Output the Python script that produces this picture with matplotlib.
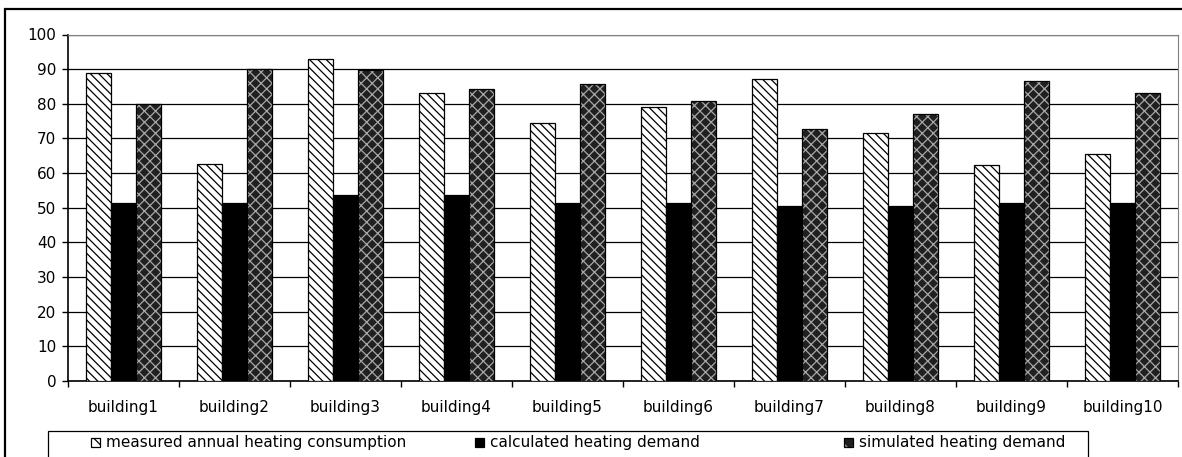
import matplotlib.pyplot as plt
import numpy as np
from matplotlib.patches import Rectangle

plt.rcParams['font.family'] = ['DejaVu Sans']
plt.rcParams['hatch.linewidth'] = 0.9

buildings = ['building1', 'building2', 'building3', 'building4', 'building5',
             'building6', 'building7', 'building8', 'building9', 'building10']
measured = [89.0, 62.7, 93.0, 83.0, 74.6, 79.2, 87.3, 71.5, 62.3, 65.4]
calculated = [51.5, 51.5, 53.6, 53.6, 51.5, 51.5, 50.6, 50.6, 51.5, 51.5]
simulated = [79.9, 90.0, 89.7, 84.2, 85.6, 80.9, 72.6, 77.2, 86.7, 83.0]
series_names = ['measured annual heating consumption', 'calculated heating demand',
                'simulated heating demand']

W, H = 1182, 457
fig = plt.figure(figsize=(W / 100, H / 100), dpi=100)
ax = fig.add_axes([68 / W, 1 - 381 / H, (1178 - 68) / W, (381 - 34.5) / H])

x = np.arange(len(buildings))
bw = 0.225

# measured: white with diagonal hatch
ax.bar(x - bw, measured, bw, color='white', edgecolor='black', hatch='\\\\\\\\',
       linewidth=0, zorder=3)
ax.bar(x - bw, measured, bw, fill=False, edgecolor='black', linewidth=0.9, zorder=4)
# calculated: solid black
ax.bar(x, calculated, bw, color='black', edgecolor='black', linewidth=0.9, zorder=3)
# simulated: dark with grey lattice
ax.bar(x + bw, simulated, bw, color='#202020', edgecolor='#a8a8a8', hatch='xxx',
       linewidth=0, zorder=3)
ax.bar(x + bw, simulated, bw, fill=False, edgecolor='black', linewidth=0.9, zorder=4)

ax.set_xlim(-0.5, len(buildings) - 0.5)
ax.set_ylim(0, 100)
ax.set_yticks(np.arange(0, 101, 10))
ax.yaxis.grid(True, color='black', linewidth=0.9, zorder=0)
ax.set_axisbelow(True)

ax.set_xticks(x)
ax.set_xticklabels(buildings, fontsize=11)
ax.set_xticks(np.arange(-0.5, len(buildings), 1), minor=True)
ax.tick_params(axis='x', which='major', length=0, pad=14)
ax.tick_params(axis='x', which='minor', length=4.5, width=1, direction='out', color='black')
ax.tick_params(axis='y', length=4.5, width=1, direction='out', pad=4, labelsize=11)

ax.spines['left'].set_color('black')
ax.spines['left'].set_linewidth(1.2)
ax.spines['bottom'].set_color('black')
ax.spines['bottom'].set_linewidth(1.2)
ax.spines['top'].set_color('#808080')
ax.spines['top'].set_linewidth(0.8)
ax.spines['right'].set_color('#808080')
ax.spines['right'].set_linewidth(0.8)

# outer chart frame
fig.add_artist(Rectangle((5 / W, -0.05), 1.1, 1 - 9 / H + 0.05, transform=fig.transFigure,
                         fill=False, edgecolor='black', linewidth=1.6))

# legend box
fig.add_artist(Rectangle((48 / W, -0.05), (1088 - 48) / W, 1 - 431 / H + 0.05,
                         transform=fig.transFigure, fill=False, edgecolor='black',
                         linewidth=0.9))
styles = [dict(facecolor='white', edgecolor='black', hatch='\\\\\\'),
          dict(facecolor='black', edgecolor='black'),
          dict(facecolor='#202020', edgecolor='#a8a8a8', hatch='xx')]
marker_x = [91, 475, 844]
for mx, name, st in zip(marker_x, series_names, styles):
    fig.add_artist(Rectangle((mx / W, 1 - 447 / H), 9 / W, 9 / H,
                             transform=fig.transFigure, linewidth=0, **st))
    fig.add_artist(Rectangle((mx / W, 1 - 447 / H), 9 / W, 9 / H,
                             transform=fig.transFigure, fill=False,
                             edgecolor='black', linewidth=0.9))
    fig.text((mx + 15) / W, 1 - 443 / H, name, fontsize=11, va='center', ha='left')

fig.savefig('out.png', dpi=100)
